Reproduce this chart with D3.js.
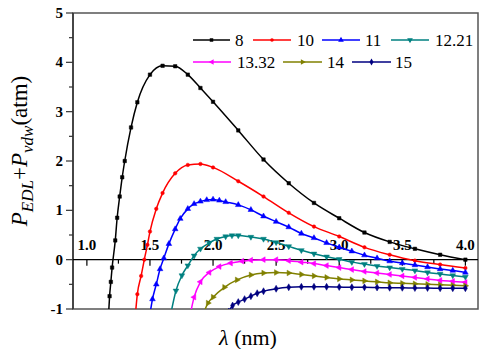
<!DOCTYPE html>
<html>
<head>
<meta charset="utf-8">
<script src="https://cdn.jsdelivr.net/npm/d3@7"></script>
</head>
<body style="margin:0">
<script>
// ---- data ----
const seriesNames = ["8", "10", "11", "12.21", "13.32", "14", "15"];

const lam8 = [1.172, 1.18, 1.19, 1.20, 1.225, 1.24, 1.26, 1.28, 1.30, 1.35, 1.40, 1.50, 1.60, 1.70, 1.80, 1.90, 2.0, 2.2, 2.4, 2.6, 2.8, 3.0, 3.2, 3.4, 3.6, 3.8, 4.0];
const p8   = [-1.1, -0.74, -0.45, -0.16, 0.39, 0.85, 1.28, 1.67, 2.0, 2.68, 3.19, 3.75, 3.93, 3.92, 3.75, 3.48, 3.2, 2.62, 2.03, 1.55, 1.15, 0.84, 0.55, 0.36, 0.22, 0.10, 0.0];

const lam10 = [1.385, 1.40, 1.43, 1.455, 1.48, 1.50, 1.55, 1.60, 1.70, 1.80, 1.90, 2.0, 2.2, 2.4, 2.6, 2.8, 3.0, 3.2, 3.4, 3.6, 3.8, 4.0];
const p10   = [-1.1, -0.70, -0.33, 0.0, 0.3, 0.57, 1.03, 1.35, 1.75, 1.92, 1.94, 1.87, 1.59, 1.28, 0.95, 0.67, 0.47, 0.25, 0.10, -0.02, -0.10, -0.17];

const lam11 = [1.50, 1.52, 1.55, 1.58, 1.61, 1.65, 1.70, 1.74, 1.80, 1.85, 1.90, 1.95, 2.0, 2.05, 2.1, 2.2, 2.3, 2.4, 2.5, 2.6, 2.7, 2.8, 2.9, 3.0, 3.1, 3.2, 3.3, 3.4, 3.5, 3.6, 3.7, 3.8, 3.9, 4.0];
const p11   = [-1.1, -0.8, -0.5, -0.19, 0.03, 0.32, 0.62, 0.83, 1.03, 1.13, 1.18, 1.21, 1.22, 1.2, 1.17, 1.11, 1.01, 0.88, 0.77, 0.66, 0.53, 0.44, 0.34, 0.25, 0.17, 0.09, 0.03, -0.03, -0.07, -0.11, -0.15, -0.19, -0.22, -0.26];

const lam12 = [1.665, 1.706, 1.753, 1.80, 1.85, 1.90, 1.97, 2.03, 2.1, 2.15, 2.2, 2.3, 2.4, 2.5, 2.6, 2.7, 2.8, 2.9, 3.0, 3.1, 3.2, 3.3, 3.4, 3.5, 3.6, 3.7, 3.8, 3.9, 4.0];
const p12   = [-1.1, -0.63, -0.32, -0.12, 0.08, 0.22, 0.34, 0.42, 0.47, 0.49, 0.49, 0.46, 0.42, 0.35, 0.27, 0.19, 0.12, 0.06, 0.01, -0.05, -0.09, -0.13, -0.16, -0.19, -0.22, -0.26, -0.29, -0.32, -0.35];

const lam13 = [1.82, 1.85, 1.90, 1.97, 2.05, 2.14, 2.23, 2.3, 2.4, 2.5, 2.6, 2.7, 2.8, 2.9, 3.0, 3.1, 3.2, 3.3, 3.4, 3.5, 3.6, 3.7, 3.8, 3.9, 4.0];
const p13   = [-1.1, -0.76, -0.45, -0.26, -0.14, -0.07, -0.03, -0.01, 0.0, 0.0, -0.02, -0.05, -0.08, -0.12, -0.16, -0.2, -0.24, -0.27, -0.3, -0.33, -0.36, -0.39, -0.42, -0.44, -0.46];

const lam14 = [1.925, 1.96, 2.0, 2.09, 2.19, 2.3, 2.4, 2.5, 2.6, 2.7, 2.8, 2.9, 3.0, 3.1, 3.2, 3.3, 3.4, 3.5, 3.6, 3.7, 3.8, 3.9, 4.0];
const p14   = [-1.08, -0.88, -0.76, -0.56, -0.41, -0.31, -0.27, -0.26, -0.27, -0.30, -0.33, -0.36, -0.39, -0.41, -0.43, -0.45, -0.47, -0.48, -0.49, -0.50, -0.51, -0.52, -0.53];

const lam15 = [2.125, 2.155, 2.2, 2.25, 2.3, 2.35, 2.4, 2.5, 2.6, 2.7, 2.8, 2.9, 3.0, 3.1, 3.2, 3.3, 3.4, 3.5, 3.6, 3.7, 3.8, 3.9, 4.0];
const p15   = [-1.05, -0.93, -0.86, -0.8, -0.74, -0.68, -0.64, -0.59, -0.56, -0.55, -0.55, -0.55, -0.555, -0.56, -0.56, -0.565, -0.57, -0.57, -0.575, -0.575, -0.58, -0.58, -0.58];

const xTickValues = [1.0, 1.5, 2.0, 2.5, 3.0, 3.5, 4.0];
const xTickLabels = ["1.0", "1.5", "2.0", "2.5", "3.0", "3.5", "4.0"];
const yTickValues = [-1, 0, 1, 2, 3, 4, 5];
const yTickLabels = ["-1", "0", "1", "2", "3", "4", "5"];

// ---- layout ----
const W = 484, H = 349;
const L = 73, R = 478, T = 13, B = 309;
const colors = ["#000000", "#ff0000", "#0000ff", "#008080", "#ff00ff", "#808000", "#000080"];
const lamAll = [lam8, lam10, lam11, lam12, lam13, lam14, lam15];
const pAll = [p8, p10, p11, p12, p13, p14, p15];
const symbols = [
  {t: d3.symbolSquare, r: 0, s: 12},
  {t: d3.symbolCircle, r: 0, s: 10},
  {t: d3.symbolTriangle, r: 0, s: 14},
  {t: d3.symbolTriangle, r: 180, s: 14},
  {t: d3.symbolTriangle, r: -90, s: 14},
  {t: d3.symbolTriangle, r: 90, s: 14},
  {t: d3.symbolDiamond, r: 0, s: 14}
];

const svg = d3.select("body").append("svg").attr("width", W).attr("height", H)
  .style("font-family", '"Times New Roman"');

function txt(parent, size, bold) {
  return parent.append("text")
    .style("font-family", '"Times New Roman"')
    .style("font-size", size + "px")
    .style("font-weight", bold ? "bold" : "normal");
}

const x = d3.scaleLinear().domain([0.89, 4.1]).range([L, R]);
const y = d3.scaleLinear().domain([-1, 5]).range([B, T]);

svg.append("defs").append("clipPath").attr("id", "clip")
  .append("rect").attr("x", L).attr("y", T).attr("width", R - L).attr("height", B - T);

// frame
svg.append("rect").attr("x", L).attr("y", T).attr("width", R - L).attr("height", B - T)
  .attr("fill", "none").attr("stroke", "#555").attr("stroke-width", 1.5);
svg.append("line").attr("x1", L).attr("x2", L).attr("y1", T).attr("y2", B)
  .attr("stroke", "#333").attr("stroke-width", 1.5);

// y ticks (outward) and labels
yTickValues.forEach((v, k) => {
  svg.append("line").attr("x1", L - 7).attr("x2", L).attr("y1", y(v)).attr("y2", y(v))
    .attr("stroke", "#333").attr("stroke-width", 1.2);
  txt(svg, 15, true).attr("x", L - 10).attr("y", y(v) + 5).attr("text-anchor", "end")
    .attr("fill", "#000").text(yTickLabels[k]);
});
d3.range(-0.5, 5, 1).forEach(v => {
  svg.append("line").attr("x1", L - 4).attr("x2", L).attr("y1", y(v)).attr("y2", y(v))
    .attr("stroke", "#333").attr("stroke-width", 1.2);
});

// x axis line at y = 0, ticks down, labels above
svg.append("line").attr("x1", L).attr("x2", R).attr("y1", y(0)).attr("y2", y(0))
  .attr("stroke", "#000").attr("stroke-width", 1.3);
xTickValues.forEach((v, k) => {
  svg.append("line").attr("x1", x(v)).attr("x2", x(v)).attr("y1", y(0)).attr("y2", y(0) + 6)
    .attr("stroke", "#000").attr("stroke-width", 1.2);
  txt(svg, 15, true).attr("x", x(v)).attr("y", y(0) - 10).attr("text-anchor", "middle")
    .attr("fill", "#000").text(xTickLabels[k]);
});
d3.range(1.25, 4.0, 0.5).forEach(v => {
  svg.append("line").attr("x1", x(v)).attr("x2", x(v)).attr("y1", y(0)).attr("y2", y(0) + 4)
    .attr("stroke", "#000").attr("stroke-width", 1.2);
});

// curves
const plot = svg.append("g").attr("clip-path", "url(#clip)");
const line = d3.line().x(d => x(d[0])).y(d => y(d[1])).curve(d3.curveMonotoneX);

seriesNames.forEach((name, i) => {
  const pts = lamAll[i].map((l, k) => [l, pAll[i][k]]);
  plot.append("path").datum(pts).attr("d", line)
    .attr("fill", "none").attr("stroke", colors[i]).attr("stroke-width", 1.5);
  const sym = d3.symbol().type(symbols[i].t).size(symbols[i].s);
  plot.selectAll(null).data(pts).enter().append("path")
    .attr("d", sym)
    .attr("transform", d => `translate(${x(d[0])},${y(d[1])}) rotate(${symbols[i].r})`)
    .attr("fill", colors[i]).attr("stroke", colors[i]).attr("stroke-width", 0.5);
});

// legend
const legendPos = [
  {x1: 193, x2: 230, tx: 235, y: 40},
  {x1: 253, x2: 291, tx: 297, y: 40},
  {x1: 322, x2: 360, tx: 365, y: 40},
  {x1: 391, x2: 429, tx: 435, y: 40},
  {x1: 193, x2: 231, tx: 237, y: 62},
  {x1: 283, x2: 322, tx: 327, y: 62},
  {x1: 352, x2: 391, tx: 395, y: 62}
];
seriesNames.forEach((name, i) => {
  const p = legendPos[i];
  svg.append("line").attr("x1", p.x1).attr("x2", p.x2).attr("y1", p.y).attr("y2", p.y)
    .attr("stroke", colors[i]).attr("stroke-width", 1.5);
  svg.append("path").attr("d", d3.symbol().type(symbols[i].t).size(symbols[i].s)())
    .attr("transform", `translate(${(p.x1 + p.x2) / 2},${p.y}) rotate(${symbols[i].r})`)
    .attr("fill", colors[i]);
  txt(svg, 17).attr("x", p.tx).attr("y", p.y + 6).attr("fill", "#000").text(name);
});

// y title
const yt = txt(svg, 23).attr("transform", "translate(27,151) rotate(-90)")
  .attr("text-anchor", "middle").attr("fill", "#000");
yt.append("tspan").style("font-style", "italic").text("P");
yt.append("tspan").style("font-style", "italic").style("font-size", "17px").attr("dy", 6).text("EDL");
yt.append("tspan").attr("dy", -6).text("+");
yt.append("tspan").style("font-style", "italic").text("P");
yt.append("tspan").style("font-style", "italic").style("font-size", "17px").attr("dy", 6).text("vdw");
yt.append("tspan").attr("dy", -6).text("(atm)");

// x title
const xt = txt(svg, 22).attr("x", 248).attr("y", 345).attr("text-anchor", "middle").attr("fill", "#000");
xt.append("tspan").style("font-style", "italic").text("λ");
xt.append("tspan").text(" (nm)");
</script>
</body>
</html>
